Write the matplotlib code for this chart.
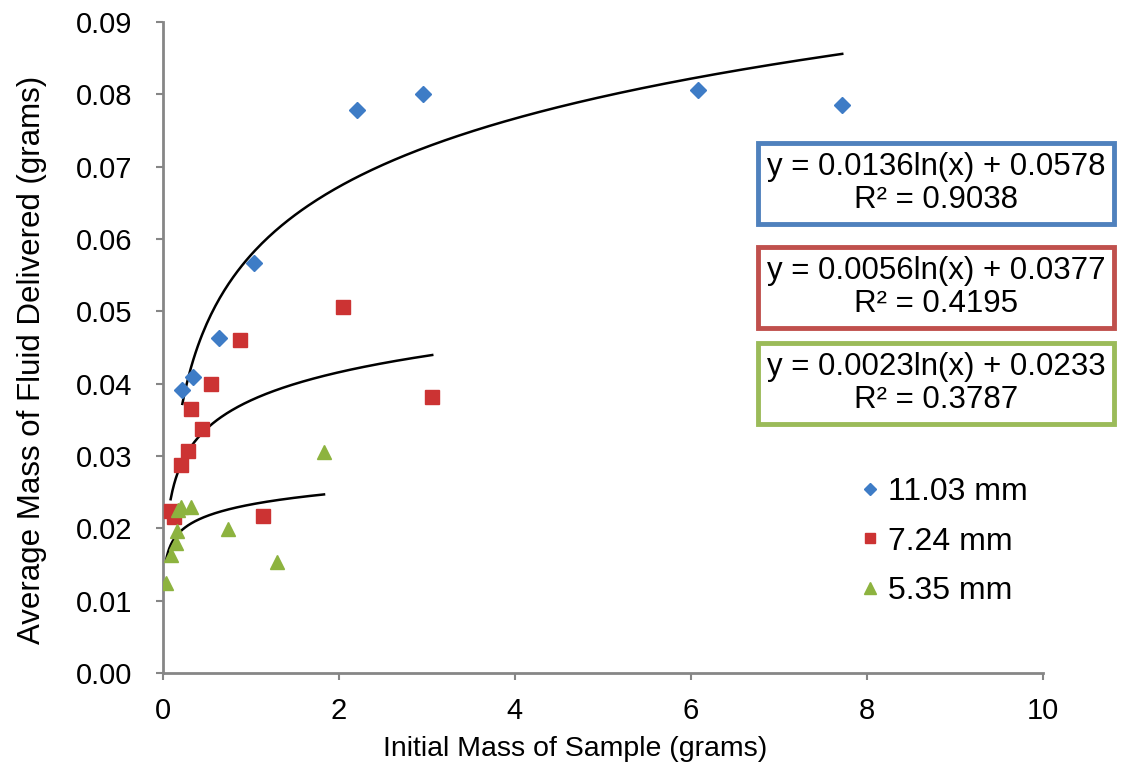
import matplotlib
matplotlib.use('Agg')
import matplotlib.pyplot as plt
import numpy as np

plt.rcParams['font.family'] = ['Liberation Sans', 'DejaVu Sans']

# 11.03 mm
x_blue = [0.22, 0.345, 0.636, 1.03, 2.20, 2.95, 6.08, 7.72]
y_blue = [0.0391, 0.0409, 0.0463, 0.0567, 0.0778, 0.0800, 0.0806, 0.0785]
# 7.24 mm
x_red = [0.087, 0.13, 0.20, 0.28, 0.315, 0.447, 0.55, 0.875, 1.14, 2.05, 3.06]
y_red = [0.0224, 0.0215, 0.0288, 0.0307, 0.0365, 0.0338, 0.0399, 0.0460, 0.0217, 0.0506, 0.0382]
# 5.35 mm
x_green = [0.034, 0.087, 0.145, 0.155, 0.175, 0.21, 0.315, 0.74, 1.30, 1.83]
y_green = [0.0124, 0.0163, 0.0180, 0.0196, 0.0225, 0.0229, 0.0230, 0.0199, 0.0153, 0.0305]

# log trendlines: y = a*ln(x) + b
fits = [
    (0.0136, 0.0578, 0.9038, 0.22, 7.72, '#4F81BD'),
    (0.0056, 0.0377, 0.4195, 0.087, 3.06, '#C0504D'),
    (0.0023, 0.0233, 0.3787, 0.034, 1.83, '#9BBB59'),
]

fig = plt.figure(figsize=(11.28, 7.75), dpi=100)
ax = fig.add_axes([0.1445, 0.1316, 0.780, 0.840])

ax.plot(x_blue, y_blue, 'D', color='#3E7CC6', markersize=8, label='11.03 mm', zorder=3)
ax.plot(x_red, y_red, 's', color='#CC3333', markersize=9.5, label='7.24 mm', zorder=3)
ax.plot(x_green, y_green, '^', color='#8DB33F', markersize=10, label='5.35 mm', zorder=3)

for a, b, r2, x0, x1, col in fits:
    xs = np.linspace(x0, x1, 300)
    ax.plot(xs, a * np.log(xs) + b, color='black', lw=1.8, zorder=2)

ax.set_xlim(0, 10)
ax.set_ylim(0, 0.09)
ax.set_xticks(np.arange(0, 11, 2))
ax.set_yticks(np.arange(0, 0.091, 0.01))
ax.set_yticklabels([f'{v:.2f}' for v in np.arange(0, 0.091, 0.01)])
ax.tick_params(labelsize=21, color='#868686', width=1.5, length=5, direction='out')
ax.tick_params(axis='y', pad=17)
ax.tick_params(axis='x', pad=12)
ax.spines['top'].set_visible(False)
ax.spines['right'].set_visible(False)
for s in ['left', 'bottom']:
    ax.spines[s].set_color('#868686')
    ax.spines[s].set_linewidth(2)

ax.set_xlabel('Initial Mass of Sample (grams)', fontsize=20.5)
ax.set_ylabel('Average Mass of Fluid Delivered (grams)', fontsize=22.5)
ax.xaxis.set_label_coords(0.468, -0.096)
ax.yaxis.set_label_coords(-0.132, 0.481)

# equation boxes
box_y = [0.763, 0.629, 0.505]
for (a, b, r2, x0, x1, col), yy in zip(fits, box_y):
    fig.text(0.830, yy, f'y = {a:.4f}ln(x) + {b:.4f}\nR² = {r2:.4f}',
             ha='center', va='center', fontsize=22.5, linespacing=1.15,
             bbox=dict(boxstyle='square,pad=0.28', fc='white', ec=col, lw=3.5))

ax.legend(loc='upper left', bbox_to_anchor=(0.732, 0.421), bbox_transform=fig.transFigure,
          frameon=False, fontsize=23, handletextpad=0.05, labelspacing=0.6,
          handlelength=1.0, markerscale=0.8)

fig.savefig('out.png', dpi=100)
